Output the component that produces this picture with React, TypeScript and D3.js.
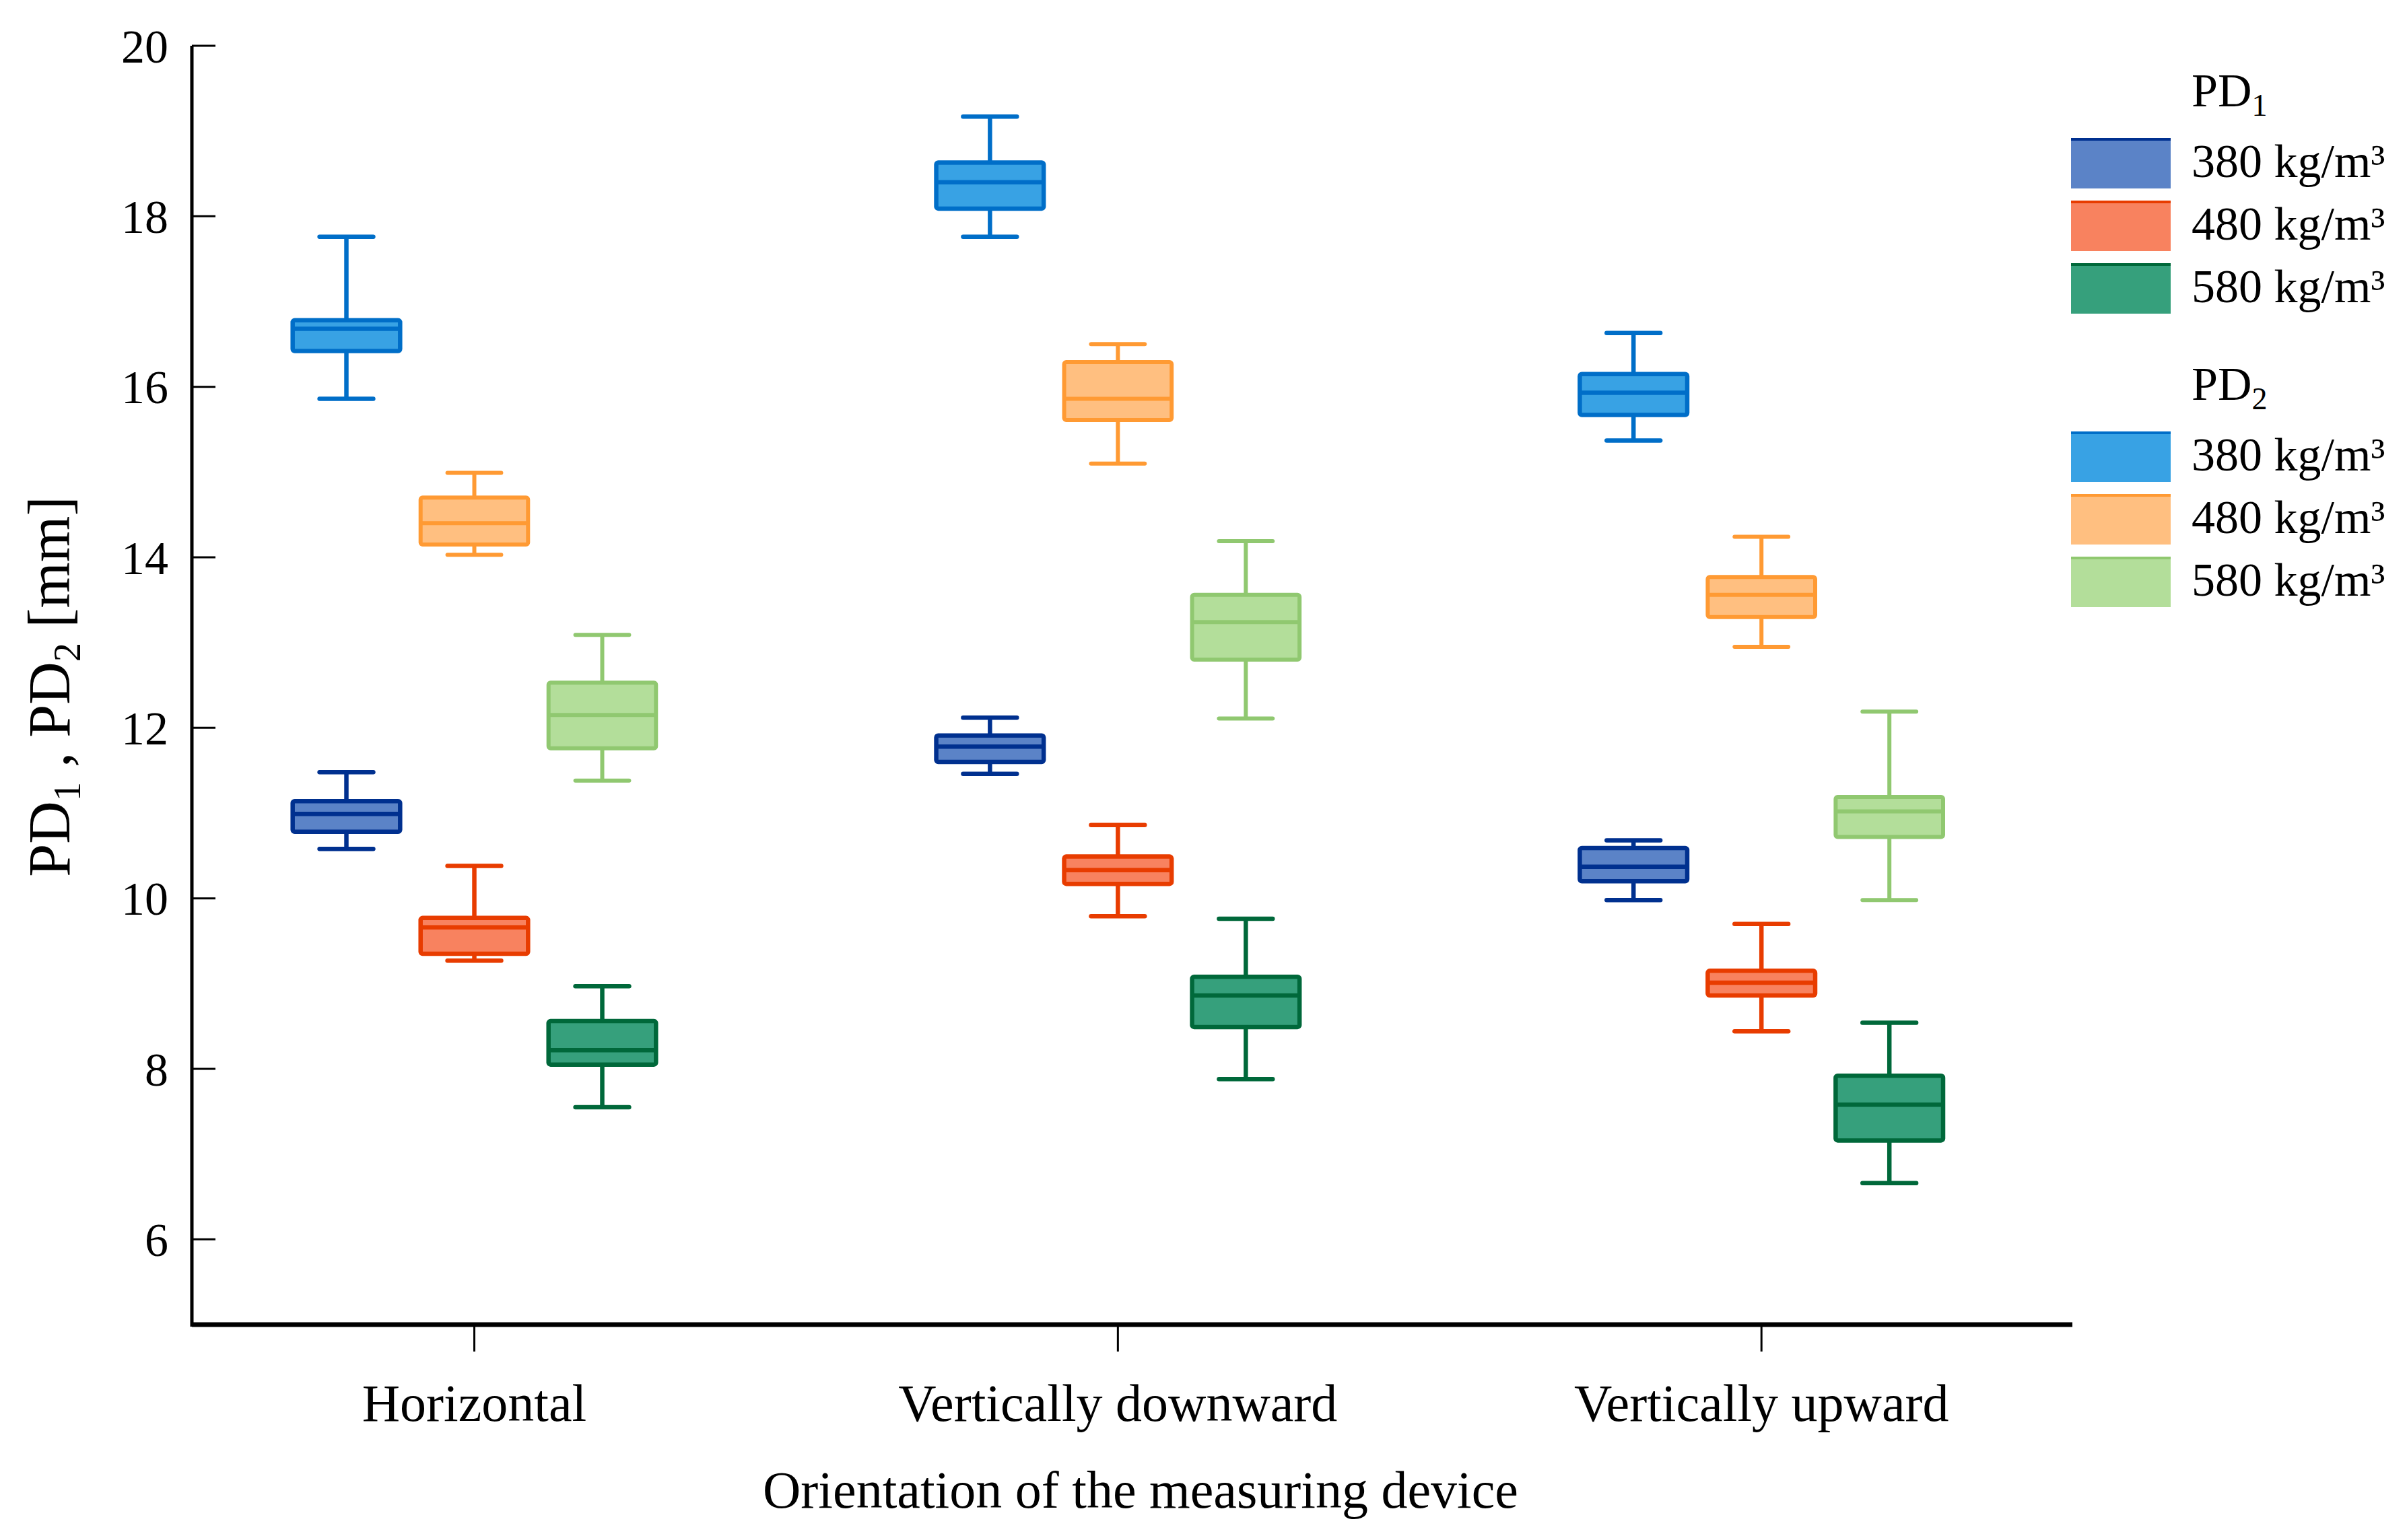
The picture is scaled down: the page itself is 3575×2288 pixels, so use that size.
import * as d3 from 'd3';

// orientation groups and densities
const groups = ['Horizontal', 'Vertically downward', 'Vertically upward'];
const densities = ['380', '480', '580'];
const yTicks = [6, 8, 10, 12, 14, 16, 18, 20];

// [min, q1, median, q3, max] per group
const pd1_380 = [[10.58, 10.78, 10.99, 11.14, 11.48], [11.46, 11.60, 11.78, 11.91, 12.12], [9.98, 10.20, 10.37, 10.59, 10.68]];
const pd1_480 = [[9.27, 9.35, 9.66, 9.77, 10.38], [9.79, 10.17, 10.33, 10.49, 10.86], [8.44, 8.86, 9.01, 9.15, 9.70]];
const pd1_580 = [[7.55, 8.05, 8.22, 8.56, 8.97], [7.88, 8.49, 8.86, 9.08, 9.76], [6.66, 7.16, 7.58, 7.92, 8.54]];
const pd2_380 = [[15.86, 16.42, 16.68, 16.78, 17.76], [17.76, 18.09, 18.40, 18.63, 19.17], [15.37, 15.67, 15.93, 16.15, 16.63]];
const pd2_480 = [[14.03, 14.15, 14.40, 14.70, 14.99], [15.10, 15.61, 15.86, 16.29, 16.50], [12.95, 13.30, 13.56, 13.77, 14.24]];
const pd2_580 = [[11.38, 11.76, 12.15, 12.53, 13.09], [12.11, 12.80, 13.24, 13.56, 14.19], [9.98, 10.72, 11.02, 11.19, 12.19]];

const series = [
  { key: 'PD1', density: '380', stats: pd1_380, fill: '#5b83c7', stroke: '#00308f', sw: 6.5 },
  { key: 'PD1', density: '480', stats: pd1_480, fill: '#f8825f', stroke: '#e83c00', sw: 6.5 },
  { key: 'PD1', density: '580', stats: pd1_580, fill: '#36a07c', stroke: '#00683a', sw: 6.5 },
  { key: 'PD2', density: '380', stats: pd2_380, fill: '#38a2e4', stroke: '#006ec8', sw: 6.5 },
  { key: 'PD2', density: '480', stats: pd2_480, fill: '#ffbf80', stroke: '#ff9a33', sw: 6 },
  { key: 'PD2', density: '580', stats: pd2_580, fill: '#b3de9a', stroke: '#90c870', sw: 6 },
];

const FONT = "'Liberation Serif', 'Times New Roman', serif";

export default function App() {
  const width = 3575;
  const height = 2288;
  const left = 285, right = 3078, top = 68, bottom = 1968;

  const y = d3.scaleLinear().domain([5, 20]).range([bottom, top]);
  const x = d3.scalePoint<string>().domain(groups).range([left, right]).padding(0.461).align(0.476);
  const inner = d3.scaleBand<string>().domain(densities).range([-285, 285]).paddingInner(0.16).paddingOuter(0.08);
  const bw = inner.bandwidth();
  const cap = bw * 0.5;

  const legendRows = (k: string) => series.filter(s => s.key === k);

  return (
    <svg width={width} height={height} style={{ position: 'absolute', left: 0, top: 0, background: '#fff' }} fontFamily={FONT}>
      {/* boxes */}
      {series.map((s, si) => (
        <g key={si}>
          {s.stats.map((d, gi) => {
            const cx = (x(groups[gi]) ?? 0) + (inner(s.density) ?? 0) + bw / 2;
            const [mn, q1, md, q3, mx] = d;
            return (
              <g key={gi} stroke={s.stroke} strokeWidth={s.sw}>
                <line x1={cx} x2={cx} y1={y(mx)} y2={y(q3)} />
                <line x1={cx} x2={cx} y1={y(q1)} y2={y(mn)} />
                <line x1={cx - cap / 2} x2={cx + cap / 2} y1={y(mx)} y2={y(mx)} strokeLinecap="round" />
                <line x1={cx - cap / 2} x2={cx + cap / 2} y1={y(mn)} y2={y(mn)} strokeLinecap="round" />
                <rect x={cx - bw / 2} y={y(q3)} width={bw} height={y(q1) - y(q3)} fill={s.fill} rx={3} />
                <line x1={cx - bw / 2} x2={cx + bw / 2} y1={y(md)} y2={y(md)} />
              </g>
            );
          })}
        </g>
      ))}

      {/* y axis */}
      <line x1={left} x2={left} y1={top} y2={bottom + 3} stroke="#000" strokeWidth={5} />
      {yTicks.map(t => (
        <g key={t}>
          <line x1={left} x2={left + 35} y1={y(t)} y2={y(t)} stroke="#000" strokeWidth={3} />
          <text x={250} y={y(t)} dy="0.35em" textAnchor="end" fontSize={70}>{t}</text>
        </g>
      ))}
      <text transform={`translate(103, 1020) rotate(-90)`} textAnchor="middle" fontSize={88}>
        PD<tspan fontSize={57} dy={16}>1</tspan><tspan dy={-16}> , PD</tspan><tspan fontSize={57} dy={16}>2</tspan><tspan dy={-16}> [mm]</tspan>
      </text>

      {/* x axis */}
      <line x1={left} x2={right} y1={bottom} y2={bottom} stroke="#000" strokeWidth={7} />
      {groups.map(g => (
        <g key={g}>
          <line x1={x(g)} x2={x(g)} y1={bottom} y2={bottom + 40} stroke="#000" strokeWidth={3} />
          <text x={x(g)} y={2111} textAnchor="middle" fontSize={78}>{g}</text>
        </g>
      ))}
      <text x={1694} y={2240} textAnchor="middle" fontSize={78}>Orientation of the measuring device</text>

      {/* legend */}
      {['PD1', 'PD2'].map((k, ki) => {
        const base = ki === 0 ? 0 : 436;
        return (
          <g key={k}>
            <text x={3255} y={158 + base} fontSize={70}>
              PD<tspan fontSize={46} dy={14}>{k.slice(2)}</tspan>
            </text>
            {legendRows(k).map((s, i) => (
              <g key={i} transform={`translate(3076, ${205 + base + i * 93})`}>
                <rect width={148} height={75} fill={s.fill} />
                <line x1={0} x2={148} y1={2} y2={2} stroke={s.stroke} strokeWidth={4} />
                <text x={179} y={58} fontSize={70}>{s.density} kg/m³</text>
              </g>
            ))}
          </g>
        );
      })}
    </svg>
  );
}
